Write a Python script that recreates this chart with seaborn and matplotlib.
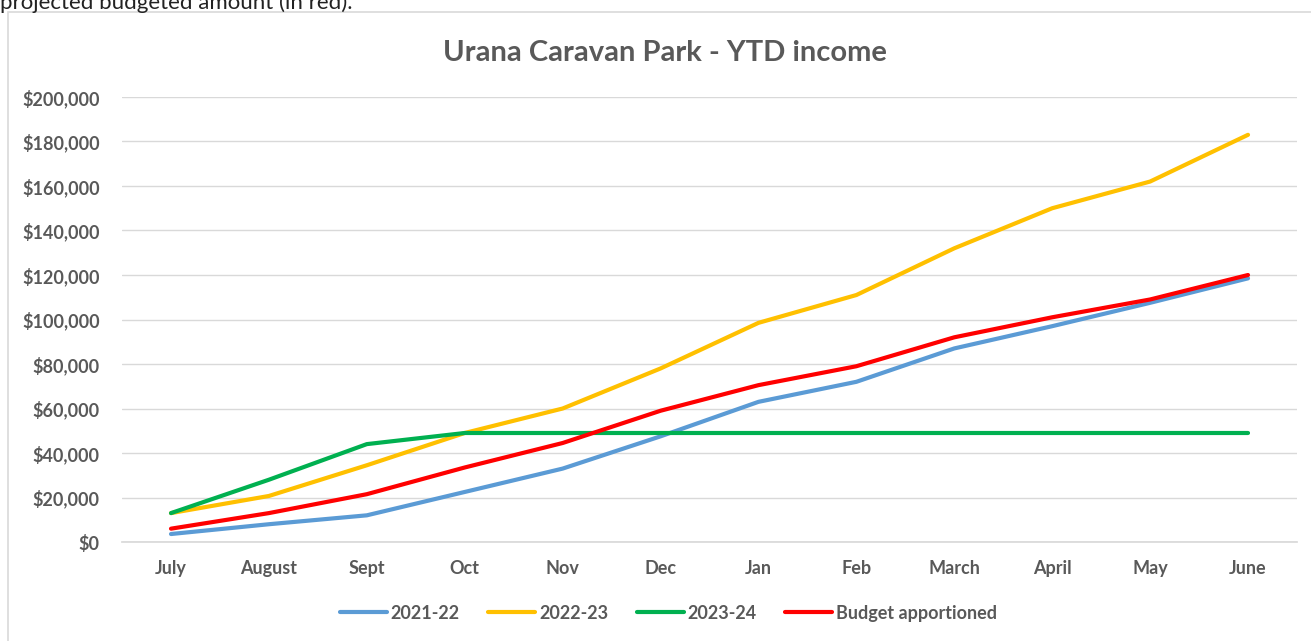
import pandas as pd
import matplotlib
matplotlib.use("Agg")
import matplotlib.pyplot as plt
import seaborn as sns
from matplotlib.ticker import FuncFormatter
from matplotlib.patches import Rectangle

months = ["July", "August", "Sept", "Oct", "Nov", "Dec", "Jan", "Feb",
          "March", "April", "May", "June"]
fy_2021_22 = [3600, 8000, 12000, 22500, 33000, 47500, 63000, 72000, 87000, 97000, 107500, 118500]
fy_2022_23 = [13000, 20700, 34500, 49000, 60000, 78000, 98500, 111000, 132000, 150000, 162000, 183000]
fy_2023_24 = [13000, 28000, 44000, 49000, 49000, 49000, 49000, 49000, 49000, 49000, 49000, 49000]
budget = [6000, 13000, 21500, 33500, 44500, 59000, 70500, 79000, 92000, 101000, 109000, 120000]

series_names = ["2021-22", "2022-23", "2023-24", "Budget apportioned"]
colors = ["#5B9BD5", "#FFC000", "#00B050", "#FF0000"]

df = pd.concat([
    pd.DataFrame({"month": months, "income": vals, "series": name})
    for name, vals in zip(series_names, [fy_2021_22, fy_2022_23, fy_2023_24, budget])
])
df["pos"] = df["month"].map({m: i for i, m in enumerate(months)})

sns.set_theme(style="white")
plt.rcParams["font.family"] = ["Lato", "DejaVu Sans"]

grey = "#595959"
fig = plt.figure(figsize=(13.11, 6.41), dpi=100)
ax = fig.add_axes([0.0931, 0.1544, 0.8962, 0.6943])

sns.lineplot(data=df, x="pos", y="income", hue="series", hue_order=series_names,
             palette=colors, linewidth=3.0, ax=ax, sort=False)

ax.set_xlim(-0.5, len(months) - 0.5)
ax.set_ylim(0, 200000)
ax.set_yticks(range(0, 200001, 20000))
ax.yaxis.set_major_formatter(FuncFormatter(lambda v, _: f"${v:,.0f}"))
ax.set_xticks(range(len(months)))
ax.set_xticklabels(months)
ax.grid(axis="y", color="#D9D9D9", lw=1)
ax.set_axisbelow(True)
for s in ["top", "right", "left"]:
    ax.spines[s].set_visible(False)
ax.spines["bottom"].set_color("#D9D9D9")
ax.tick_params(axis="both", length=0, labelcolor=grey, labelsize=13)
ax.tick_params(axis="y", pad=16)
ax.tick_params(axis="x", pad=13)
for lab in ax.get_xticklabels() + ax.get_yticklabels():
    lab.set_fontweight("bold")
ax.set_xlabel("")
ax.set_ylabel("")

ax.legend(loc="center", bbox_to_anchor=(0.465, -0.16), ncol=4, frameon=False,
          handlelength=2.6, handletextpad=0.2, columnspacing=1.6,
          prop={"weight": "bold", "size": 13}, labelcolor=grey)

fig.text(0.507, 0.918, "Urana Caravan Park - YTD income", ha="center", va="center",
         fontsize=21, fontweight="bold", color="#595959")

# chart frame and clipped caption above it
fig.patches.append(Rectangle((8 / 1311, -0.01), 1.02, 1 - 12 / 641 + 0.01,
                             transform=fig.transFigure, fill=False,
                             edgecolor="#D9D9D9", lw=1.2))
fig.text(0.0, 0.9955, "projected budgeted amount (in red).", ha="left", va="center",
         fontsize=16, color="#222222")

fig.savefig("out.png", dpi=100)
